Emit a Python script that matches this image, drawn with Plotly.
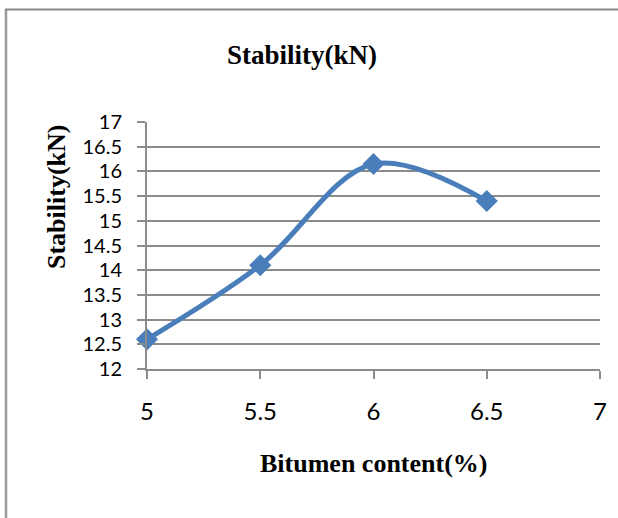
import plotly.graph_objects as go

bitumen = [5, 5.5, 6, 6.5]
stability = [12.6, 14.1, 16.15, 15.4]
x_ticks = [5, 5.5, 6, 6.5, 7]
y_ticks = [12, 12.5, 13, 13.5, 14, 14.5, 15, 15.5, 16, 16.5, 17]

W, H = 618, 518
L, R, T, B = 147, 18, 122, 149
pw, ph = W - L - R, H - T - B

def px(xp):
    return (xp - L) / pw

def py(yp):
    return (H - B - yp) / ph

fig = go.Figure()
fig.add_trace(go.Scatter(
    x=bitumen, y=stability, mode="lines+markers", cliponaxis=False,
    line=dict(color="#4A7EBB", width=5, shape="spline", smoothing=1),
    marker=dict(symbol="diamond", size=17, color="#4A7EBB"),
    showlegend=False,
))

tickfont = dict(family="Lato, Open Sans, sans-serif", size=20, color="#000")
fig.update_xaxes(range=[5, 7], tickvals=x_ticks, ticktext=[f"{v:g}" for v in x_ticks],
                 showgrid=False, zeroline=False, showline=True, linecolor="#8c8c8c", linewidth=1.5,
                 ticks="outside", ticklen=8, tickcolor="#8c8c8c", tickwidth=1.5,
                 tickfont=dict(family="Lato, Open Sans, sans-serif", size=24, color="#000"),
                 ticklabelstandoff=12)
fig.update_layout(
    yaxis=dict(range=[12, 17], tickvals=y_ticks, showticklabels=False,
               showgrid=True, gridcolor="#8c8c8c", gridwidth=1.5, zeroline=False,
               showline=True, linecolor="#8c8c8c", linewidth=1.5,
               ticks="outside", ticklen=8, tickcolor="#8c8c8c", tickwidth=1.5),
    yaxis2=dict(range=[12, 17], tickvals=y_ticks, ticktext=[f"{v:g}" for v in y_ticks],
                overlaying="y", side="left", showgrid=False, zeroline=False, showline=False,
                ticks="outside", ticklen=20, tickcolor="rgba(0,0,0,0)",
                tickfont=tickfont),
)
# invisible helper trace so the label axis is drawn
fig.add_trace(go.Scatter(x=bitumen, y=stability, yaxis="y2", mode="markers",
                         marker=dict(opacity=0), hoverinfo="skip", showlegend=False))

serif = dict(family="Liberation Serif, Times New Roman, serif", size=26, color="#000")
title_font = dict(family="Liberation Serif, Times New Roman, serif", size=27, color="#000")
fig.update_layout(
    width=W, height=H, margin=dict(l=L, r=R, t=T, b=B),
    paper_bgcolor="white", plot_bgcolor="white",
    annotations=[
        dict(text="<b>Stability(kN)</b>", x=px(302), y=py(55), xref="paper", yref="paper",
             showarrow=False, font=title_font, xanchor="center", yanchor="middle"),
        dict(text="<b>Stability(kN)</b>", x=px(56), y=py(197), xref="paper", yref="paper",
             showarrow=False, font=serif, textangle=-90, xanchor="center", yanchor="middle"),
        dict(text="<b>Bitumen content(%)</b>", x=px(373), y=py(463), xref="paper", yref="paper",
             showarrow=False, font=serif, xanchor="center", yanchor="middle"),
    ],
    shapes=[
        dict(type="line", xref="paper", yref="paper", x0=px(6), x1=px(6), y0=py(9), y1=py(530),
             line=dict(color="#999999", width=2.5)),
        dict(type="line", xref="paper", yref="paper", x0=px(5), x1=px(640), y0=py(9.5), y1=py(9.5),
             line=dict(color="#888888", width=2)),
    ],
)
fig.write_html("out.html")
